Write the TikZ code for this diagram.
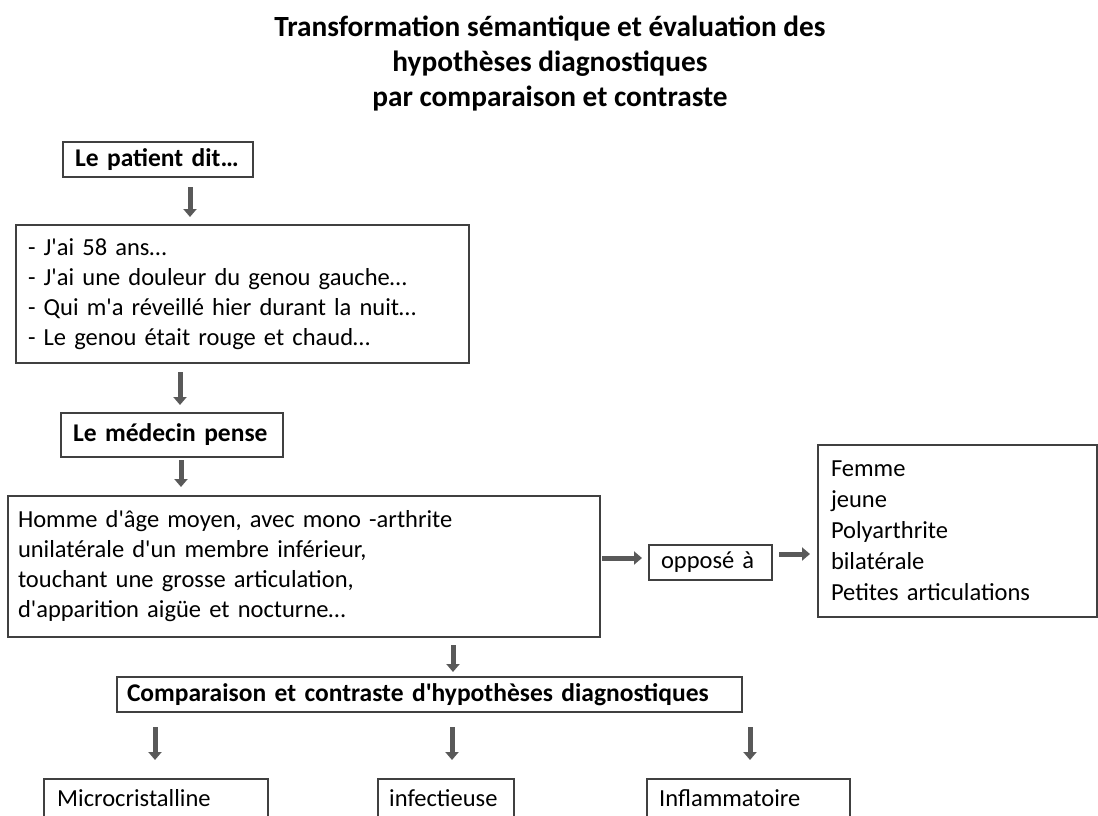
\documentclass[tikz,border=0pt]{standalone}
\usepackage{fontspec}
\setmainfont{Carlito}
\usetikzlibrary{arrows.meta,calc}
\definecolor{boxc}{RGB}{64,64,64}
\definecolor{arrc}{RGB}{89,89,89}
\newcommand{\ap}{\textquotesingle}
\tikzset{
  box/.style={draw=boxc, line width=1.1pt, anchor=north west, inner ysep=0pt, outer sep=0pt,
    font=\fontsize{24.5}{30}\selectfont, align=left},
  boldbox/.style={box, font=\fontsize{25.5}{30}\selectfont\bfseries},
  lbl/.style={anchor=north west, font=\fontsize{24.5}{30}\selectfont, inner sep=0pt},
  arr/.style={draw=arrc, line width=5pt, -{Triangle[width=13pt,length=8pt]}},
}
\begin{document}
\begin{tikzpicture}[x=1pt,y=-1pt]
\useasboundingbox (0,0) rectangle (1098,816);
\clip (0,0) rectangle (1098,816);
% title
\node[font=\fontsize{29.3}{35}\selectfont\bfseries, align=center] (title) at (550,64)
  {Transformation sémantique et évaluation des\\hypothèses diagnostiques\\par comparaison et contraste};
% boxes
\node[boldbox, minimum width=190pt, minimum height=35pt, text width=166pt, inner xsep=12pt] (patient) at (63,142) {Le patient dit…};
\node[box, minimum width=453pt, minimum height=138pt, text width=429pt, inner xsep=12pt] (says) at (16,225)
  {- J\ap ai 58 ans…\\- J\ap ai une douleur du genou gauche…\\- Qui m\ap a réveillé hier durant la nuit…\\- Le genou était rouge et chaud…};
\node[boldbox, minimum width=222pt, minimum height=44pt, text width=198pt, inner xsep=12pt] (medecin) at (61,413) {Le médecin pense};
\node[box, minimum width=592pt, minimum height=141pt, text width=572pt, inner xsep=10pt] (homme) at (8,496)
  {Homme d\ap âge moyen, avec mono -arthrite\\unilatérale d\ap un membre inférieur,\\touchant une grosse articulation,\\d\ap apparition aigüe et nocturne…};
\node[box, minimum width=123pt, minimum height=35pt, text width=99pt, inner xsep=12pt] (oppose) at (649,545) {opposé à};
\node[box, minimum width=279pt, minimum height=172pt, text width=253pt, inner xsep=13pt, font=\fontsize{24.5}{31}\selectfont] (contre) at (818,445)
  {Femme\\jeune\\Polyarthrite\\bilatérale\\Petites articulations};
\node[boldbox, minimum width=625pt, minimum height=35pt, text width=605pt, inner xsep=10pt] (compare) at (117,677) {Comparaison et contraste d\ap hypothèses diagnostiques};
\node[box, minimum width=224pt, minimum height=60pt] (micro) at (44,779) {};
\node[lbl] (microt) at (57,789) {Microcristalline};
\node[box, minimum width=136pt, minimum height=60pt] (infect) at (378,779) {};
\node[lbl] (infectt) at (389,789) {infectieuse};
\node[box, minimum width=203pt, minimum height=60pt] (inflam) at (647,779) {};
\node[lbl] (inflamt) at (659,789) {Inflammatoire};
% arrow coordinates
\coordinate (c1) at (190,0);
\coordinate (c2) at (180,0);
\coordinate (c3) at (181,0);
\coordinate (c4) at (453,0);
\coordinate (c5) at (155,0);
\coordinate (c6) at (452,0);
\coordinate (c7) at (750,0);
\coordinate (r1) at (0,558);
\coordinate (r2) at (0,554);
% arrows
\draw[arr, shorten <=10pt, shorten >=8pt] (patient.south -| c1) -- (says.north -| c1);
\draw[arr, shorten <=9pt, shorten >=8pt] (says.south -| c2) -- (medecin.north -| c2);
\draw[arr, shorten <=3pt, shorten >=9pt] (medecin.south -| c3) -- (homme.north -| c3);
\draw[arr, shorten <=8pt, shorten >=5pt] (homme.south -| c4) -- (compare.north -| c4);
\draw[arr, shorten <=15pt, shorten >=19pt] (compare.south -| c5) -- (micro.north -| c5);
\draw[arr, shorten <=15pt, shorten >=19pt] (compare.south -| c6) -- (infect.north -| c6);
\draw[arr, shorten <=15pt, shorten >=19pt] (compare.south -| c7) -- (inflam.north -| c7);
\draw[arr, shorten <=2pt, shorten >=7pt] (homme.east |- r1) -- (oppose.west |- r1);
\draw[arr, shorten <=7pt, shorten >=8pt] (oppose.east |- r2) -- (contre.west |- r2);
\end{tikzpicture}
\end{document}
